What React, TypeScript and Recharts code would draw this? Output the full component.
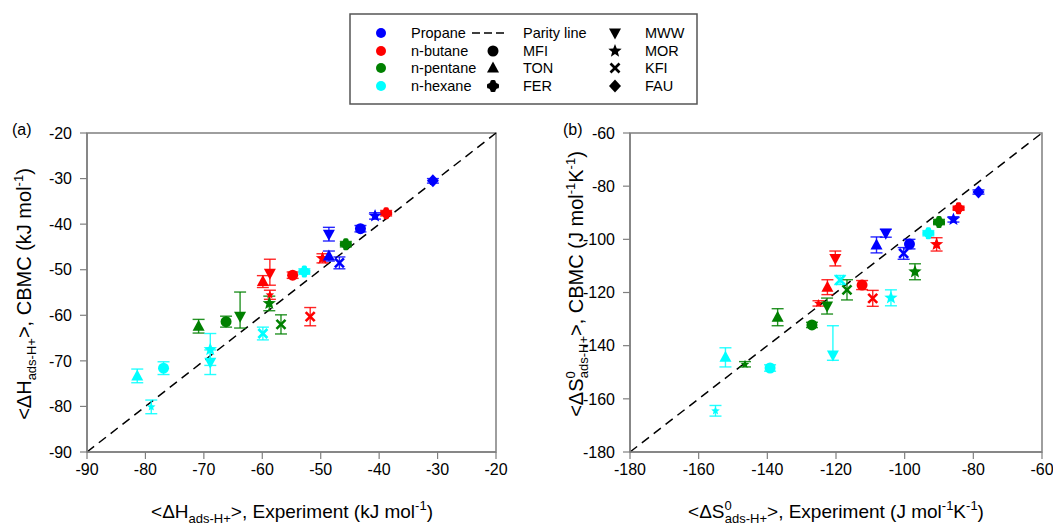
import React from 'react';
import {
  ScatterChart,
  Scatter,
  XAxis,
  YAxis,
  ErrorBar,
  ReferenceLine,
  ReferenceArea,
} from 'recharts';

type Err = number | [number, number];
type Pt = { fw: string; exp: number; cbmc: number; err: Err };

const FONT = '"Liberation Sans", Arial, Helvetica, sans-serif';

const COLOR_PROPANE = '#0000ff';
const COLOR_BUTANE = '#ff0000';
const COLOR_PENTANE = '#008000';
const COLOR_HEXANE = '#00ffff';

// ---- (a) adsorption enthalpy, kJ/mol ----
const enthalpyTicks = [-90, -80, -70, -60, -50, -40, -30, -20];

const enthalpyPropane: Pt[] = [
  { fw: 'FAU', exp: -30.8, cbmc: -30.5, err: 0.5 },
  { fw: 'MOR', exp: -40.7, cbmc: -38.2, err: 0.7 },
  { fw: 'MFI', exp: -43.2, cbmc: -41.0, err: 0.7 },
  { fw: 'MWW', exp: -48.6, cbmc: -42.2, err: 1.5 },
  { fw: 'TON', exp: -48.6, cbmc: -47.0, err: 1.1 },
  { fw: 'KFI', exp: -46.8, cbmc: -48.5, err: 1.3 },
];

const enthalpyButane: Pt[] = [
  { fw: 'FER', exp: -38.8, cbmc: -37.6, err: 0.6 },
  { fw: 'MOR', exp: -49.7, cbmc: -47.5, err: 1.0 },
  { fw: 'MFI', exp: -54.8, cbmc: -51.2, err: 0.7 },
  { fw: 'MWW', exp: -58.7, cbmc: -50.8, err: [2.6, 3.1] },
  { fw: 'TON', exp: -59.9, cbmc: -52.6, err: 1.3 },
  { fw: 'small', exp: -58.7, cbmc: -55.5, err: 1.0 },
  { fw: 'KFI', exp: -51.8, cbmc: -60.3, err: 2.0 },
];

const enthalpyPentane: Pt[] = [
  { fw: 'FER', exp: -45.7, cbmc: -44.4, err: 0.6 },
  { fw: 'TON', exp: -70.9, cbmc: -62.4, err: 1.5 },
  { fw: 'MFI', exp: -66.2, cbmc: -61.4, err: 1.2 },
  { fw: 'MWW', exp: -63.8, cbmc: -60.2, err: [2.6, 5.3] },
  { fw: 'MOR', exp: -58.8, cbmc: -57.4, err: 1.6 },
  { fw: 'KFI', exp: -56.8, cbmc: -62.0, err: 2.1 },
];

const enthalpyHexane: Pt[] = [
  { fw: 'TON', exp: -81.4, cbmc: -73.3, err: 1.5 },
  { fw: 'MFI', exp: -76.9, cbmc: -71.6, err: 1.4 },
  { fw: 'small', exp: -79.0, cbmc: -80.1, err: 1.5 },
  { fw: 'MOR', exp: -68.9, cbmc: -67.5, err: 3.5 },
  { fw: 'MWW', exp: -68.9, cbmc: -70.3, err: 2.7 },
  { fw: 'KFI', exp: -59.9, cbmc: -64.0, err: 1.4 },
  { fw: 'FER', exp: -52.8, cbmc: -50.4, err: 0.6 },
];

// ---- (b) adsorption entropy, J/(mol K) ----
const entropyTicks = [-180, -160, -140, -120, -100, -80, -60];

const entropyPropane: Pt[] = [
  { fw: 'FAU', exp: -78.5, cbmc: -82.2, err: 0.8 },
  { fw: 'MOR', exp: -85.8, cbmc: -92.5, err: 1.0 },
  { fw: 'MFI', exp: -98.6, cbmc: -101.8, err: 1.8 },
  { fw: 'KFI', exp: -100.3, cbmc: -105.3, err: 2.2 },
  { fw: 'MWW', exp: -105.5, cbmc: -97.7, err: 1.5 },
  { fw: 'TON', exp: -108.2, cbmc: -102.1, err: 3.0 },
];

const entropyButane: Pt[] = [
  { fw: 'FER', exp: -84.3, cbmc: -88.3, err: 0.8 },
  { fw: 'MOR', exp: -90.7, cbmc: -101.9, err: 2.5 },
  { fw: 'MWW', exp: -120.2, cbmc: -107.2, err: 2.8 },
  { fw: 'TON', exp: -122.5, cbmc: -118.0, err: 2.8 },
  { fw: 'MFI', exp: -112.4, cbmc: -117.2, err: 1.7 },
  { fw: 'KFI', exp: -109.3, cbmc: -122.2, err: 3.0 },
  { fw: 'small', exp: -125.1, cbmc: -124.1, err: 1.0 },
];

const entropyPentane: Pt[] = [
  { fw: 'FER', exp: -90.0, cbmc: -93.5, err: 1.0 },
  { fw: 'MOR', exp: -97.0, cbmc: -112.2, err: 3.0 },
  { fw: 'KFI', exp: -116.8, cbmc: -119.0, err: 3.8 },
  { fw: 'MWW', exp: -122.6, cbmc: -125.1, err: 3.0 },
  { fw: 'TON', exp: -137.0, cbmc: -129.3, err: 3.2 },
  { fw: 'MFI', exp: -127.0, cbmc: -132.2, err: 1.0 },
  { fw: 'small', exp: -146.5, cbmc: -147.0, err: 1.0 },
];

const entropyHexane: Pt[] = [
  { fw: 'FER', exp: -93.1, cbmc: -97.7, err: 1.0 },
  { fw: 'KFI', exp: -118.8, cbmc: -115.3, err: 1.7 },
  { fw: 'MOR', exp: -104.0, cbmc: -122.0, err: 3.0 },
  { fw: 'MWW', exp: -120.9, cbmc: -143.5, err: [2.0, 11.0] },
  { fw: 'MFI', exp: -139.2, cbmc: -148.4, err: 1.2 },
  { fw: 'TON', exp: -152.2, cbmc: -144.4, err: 3.6 },
  { fw: 'small', exp: -155.1, cbmc: -164.5, err: 2.0 },
];

// ---- marker glyphs, one per framework ----
function starPoints(cx: number, cy: number, ro: number, ri: number) {
  const pts: string[] = [];
  for (let i = 0; i < 10; i++) {
    const r = i % 2 === 0 ? ro : ri;
    const a = -Math.PI / 2 + (i * Math.PI) / 5;
    pts.push(`${cx + r * Math.cos(a)},${cy + r * Math.sin(a)}`);
  }
  return pts.join(' ');
}

function Marker({ cx, cy, fw, color }: { cx: number; cy: number; fw: string; color: string }) {
  switch (fw) {
    case 'MFI':
      return <circle cx={cx} cy={cy} r={5.5} fill={color} />;
    case 'TON':
      return <polygon points={`${cx},${cy - 6.5} ${cx + 6},${cy + 4.5} ${cx - 6},${cy + 4.5}`} fill={color} />;
    case 'MWW':
      return <polygon points={`${cx},${cy + 6.5} ${cx + 6},${cy - 4.5} ${cx - 6},${cy - 4.5}`} fill={color} />;
    case 'FAU':
      return <polygon points={`${cx},${cy - 6.5} ${cx + 6},${cy} ${cx},${cy + 6.5} ${cx - 6},${cy}`} fill={color} />;
    case 'MOR':
      return <polygon points={starPoints(cx, cy, 7, 3)} fill={color} />;
    case 'small':
      return <polygon points={starPoints(cx, cy, 4.5, 2)} fill={color} />;
    case 'KFI':
      return (
        <g stroke={color} strokeWidth={2.6}>
          <line x1={cx - 4.5} y1={cy - 4.5} x2={cx + 4.5} y2={cy + 4.5} />
          <line x1={cx - 4.5} y1={cy + 4.5} x2={cx + 4.5} y2={cy - 4.5} />
        </g>
      );
    case 'FER':
    default:
      return (
        <g fill={color}>
          <circle cx={cx} cy={cy} r={4.6} />
          <rect x={cx - 6} y={cy - 2.6} width={12} height={5.2} rx={1.5} />
          <rect x={cx - 2.6} y={cy - 6} width={5.2} height={12} rx={1.5} />
        </g>
      );
  }
}

function series(data: Pt[], color: string, name: string) {
  return (
    <Scatter
      key={name}
      name={name}
      data={data}
      fill={color}
      isAnimationActive={false}
      shape={(p: any) => <Marker cx={p.cx} cy={p.cy} fw={p.payload.fw} color={color} />}
    >
      <ErrorBar dataKey="err" direction="y" width={6} stroke={color} strokeWidth={1.4} strokeOpacity={0.85} />
    </Scatter>
  );
}

const AXIS_GRAY = '#7f7f7f';

function Panel({
  width,
  margin,
  ticks,
  groups,
}: {
  width: number;
  margin: { top: number; right: number; bottom: number; left: number };
  ticks: number[];
  groups: [Pt[], string, string][];
}) {
  const lo = ticks[0];
  const hi = ticks[ticks.length - 1];
  return (
    <ScatterChart width={width} height={532} margin={margin} style={{ overflow: 'visible' }}>
      <XAxis
        type="number"
        dataKey="exp"
        domain={[lo, hi]}
        ticks={ticks}
        allowDataOverflow
        height={30}
        tickSize={7}
        tickMargin={5}
        axisLine={{ stroke: AXIS_GRAY, strokeWidth: 1.5 }}
        tickLine={{ stroke: AXIS_GRAY, strokeWidth: 1.2 }}
        tick={{ fill: '#000', fontSize: 16, fontFamily: FONT }}
        interval={0}
      />
      <YAxis
        type="number"
        dataKey="cbmc"
        domain={[lo, hi]}
        ticks={ticks}
        allowDataOverflow
        width={60}
        tickSize={7}
        tickMargin={8}
        axisLine={{ stroke: AXIS_GRAY, strokeWidth: 1.5 }}
        tickLine={{ stroke: AXIS_GRAY, strokeWidth: 1.2 }}
        tick={{ fill: '#000', fontSize: 16, fontFamily: FONT }}
        interval={0}
      />
      <ReferenceArea x1={lo} x2={hi} y1={lo} y2={hi} fill="none" fillOpacity={0} stroke={AXIS_GRAY} strokeWidth={1.5} ifOverflow="visible" />
      <ReferenceLine
        segment={[{ x: lo, y: lo }, { x: hi, y: hi }]}
        stroke="#000"
        strokeWidth={1.5}
        strokeDasharray="9 6"
        ifOverflow="visible"
      />
      {groups.map(([d, c, n]) => series(d, c, n))}
    </ScatterChart>
  );
}

function Legend() {
  const rows = [33, 51, 68, 86];
  const names = ['Propane', 'n-butane', 'n-pentane', 'n-hexane'];
  const colors = [COLOR_PROPANE, COLOR_BUTANE, COLOR_PENTANE, COLOR_HEXANE];
  const mid = ['', 'MFI', 'TON', 'FER'];
  const right = ['MWW', 'MOR', 'KFI', 'FAU'];
  const ts = { fontSize: 14.5, fontFamily: FONT, fill: '#000' } as const;
  return (
    <g>
      <rect x={350} y={14} width={347} height={90} fill="#fff" stroke="#555" strokeWidth={1.5} />
      {rows.map((y, i) => (
        <g key={i}>
          <circle cx={381} cy={y} r={5} fill={colors[i]} />
          <text x={411} y={y + 5} {...ts}>{names[i]}</text>
          {i === 0 ? (
            <line x1={472} y1={y} x2={508} y2={y} stroke="#000" strokeWidth={1.5} strokeDasharray="8 4" />
          ) : (
            <Marker cx={493} cy={y} fw={mid[i]} color="#000" />
          )}
          <text x={523} y={y + 5} {...ts}>{i === 0 ? 'Parity line' : mid[i]}</text>
          <Marker cx={615} cy={y} fw={right[i]} color="#000" />
          <text x={645} y={y + 5} {...ts}>{right[i]}</text>
        </g>
      ))}
    </g>
  );
}

export default function App() {
  const title = { fontSize: 19, fontFamily: FONT, fill: '#000' } as const;
  return (
    <div style={{ position: 'absolute', left: 0, top: 0, width: 1053, height: 532, background: '#fff', overflow: 'hidden' }}>
      <div style={{ position: 'absolute', left: 0, top: 0 }}>
        <Panel
          width={520}
          margin={{ top: 133, right: 24, bottom: 50, left: 27 }}
          ticks={enthalpyTicks}
          groups={[
            [enthalpyPentane, COLOR_PENTANE, 'n-pentane'],
            [enthalpyHexane, COLOR_HEXANE, 'n-hexane'],
            [enthalpyButane, COLOR_BUTANE, 'n-butane'],
            [enthalpyPropane, COLOR_PROPANE, 'Propane'],
          ]}
        />
      </div>
      <div style={{ position: 'absolute', left: 540, top: 0 }}>
        <Panel
          width={513}
          margin={{ top: 133, right: 11, bottom: 50, left: 30 }}
          ticks={entropyTicks}
          groups={[
            [entropyPentane, COLOR_PENTANE, 'n-pentane'],
            [entropyHexane, COLOR_HEXANE, 'n-hexane'],
            [entropyButane, COLOR_BUTANE, 'n-butane'],
            [entropyPropane, COLOR_PROPANE, 'Propane'],
          ]}
        />
      </div>
      <svg width={1053} height={532} style={{ position: 'absolute', left: 0, top: 0, pointerEvents: 'none' }}>
        <Legend />
        <text x={12} y={135} fontSize={16} fontFamily={FONT}>(a)</text>
        <text x={563} y={135} fontSize={16} fontFamily={FONT}>(b)</text>

        <text transform="translate(31,294) rotate(-90)" textAnchor="middle" {...title} fontSize={20}>
          &lt;ΔH<tspan dy={5} fontSize={13}>ads-H+</tspan>
          <tspan dy={-5}>&gt;, CBMC (kJ mol</tspan>
          <tspan dy={-8} fontSize={13}>-1</tspan>
          <tspan dy={8}>)</tspan>
        </text>
        <text x={292} y={518} textAnchor="middle" {...title}>
          &lt;ΔH<tspan dy={5} fontSize={13}>ads-H+</tspan>
          <tspan dy={-5}>&gt;, Experiment (kJ mol</tspan>
          <tspan dy={-8} fontSize={13}>-1</tspan>
          <tspan dy={8}>)</tspan>
        </text>

        <text transform="translate(583,284) rotate(-90)" textAnchor="middle" {...title} fontSize={20}>
          &lt;ΔS<tspan dy={-8} fontSize={13}>0</tspan>
          <tspan dx={-7} dy={13} fontSize={13}>ads-H+</tspan>
          <tspan dy={-5}>&gt;, CBMC (J mol</tspan>
          <tspan dy={-8} fontSize={13}>-1</tspan>
          <tspan dy={8}>K</tspan>
          <tspan dy={-8} fontSize={13}>-1</tspan>
          <tspan dy={8}>)</tspan>
        </text>
        <text x={836} y={518} textAnchor="middle" {...title}>
          &lt;ΔS<tspan dy={-8} fontSize={13}>0</tspan>
          <tspan dx={-7} dy={13} fontSize={13}>ads-H+</tspan>
          <tspan dy={-5}>&gt;, Experiment (J mol</tspan>
          <tspan dy={-8} fontSize={13}>-1</tspan>
          <tspan dy={8}>K</tspan>
          <tspan dy={-8} fontSize={13}>-1</tspan>
          <tspan dy={8}>)</tspan>
        </text>
      </svg>
    </div>
  );
}
